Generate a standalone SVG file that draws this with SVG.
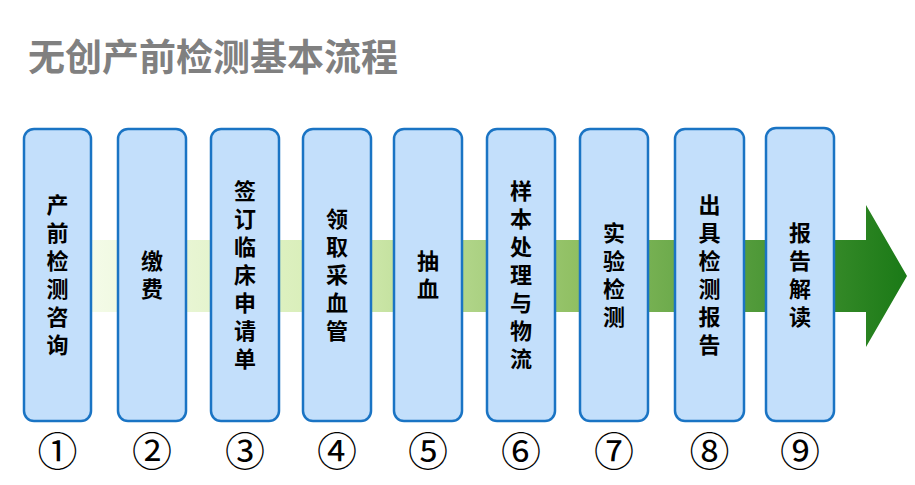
<svg xmlns="http://www.w3.org/2000/svg" width="915" height="485" viewBox="0 0 915 485">
<defs>
<linearGradient id="ag" x1="90" y1="0" x2="905" y2="0" gradientUnits="userSpaceOnUse">
<stop offset="0" stop-color="#f4fbe8"/>
<stop offset="0.3" stop-color="#d6edb4"/>
<stop offset="0.6" stop-color="#8fbf62"/>
<stop offset="1" stop-color="#1b7a17"/>
</linearGradient>
<style>
.box{fill:#c3dffb;stroke:#1a74c4;stroke-width:2.5}
.lbl{font-family:"Noto Sans CJK SC","Noto Sans",sans-serif;font-weight:bold;font-size:22px;fill:#000;text-anchor:middle;writing-mode:vertical-rl;letter-spacing:6px}
.num{font-family:"Noto Sans CJK SC","DejaVu Sans",sans-serif;font-size:40px;fill:#000;text-anchor:middle}
.title{font-family:"Noto Sans CJK SC",sans-serif;font-weight:bold;font-size:37px;fill:#808080}
</style>
</defs>
<rect width="915" height="485" fill="#fff"/>
<text class="title" x="28" y="71">无创产前检测基本流程</text>
<g id="connectors">
<path d="M90,240 H866 V205 L907,276 L866,347 V312 H90 Z" fill="url(#ag)"/>
</g>
<g id="n1"><rect class="box" x="24" y="129" width="67" height="292" rx="10"/>
<text class="lbl" x="57.5" y="278">产前检测咨询</text>
<text class="num" x="57.5" y="466">①</text></g>
<g id="n2"><rect class="box" x="118" y="129" width="68" height="292" rx="10"/>
<text class="lbl" x="152" y="278">缴费</text>
<text class="num" x="152" y="466">②</text></g>
<g id="n3"><rect class="box" x="211" y="129" width="68" height="292" rx="10"/>
<text class="lbl" x="245" y="278">签订临床申请单</text>
<text class="num" x="245" y="466">③</text></g>
<g id="n4"><rect class="box" x="303" y="129" width="68" height="292" rx="10"/>
<text class="lbl" x="337" y="278">领取采血管</text>
<text class="num" x="337" y="466">④</text></g>
<g id="n5"><rect class="box" x="394" y="129" width="68" height="292" rx="10"/>
<text class="lbl" x="428" y="278">抽血</text>
<text class="num" x="428" y="466">⑤</text></g>
<g id="n6"><rect class="box" x="487" y="129" width="68" height="292" rx="10"/>
<text class="lbl" x="521" y="278">样本处理与物流</text>
<text class="num" x="521" y="466">⑥</text></g>
<g id="n7"><rect class="box" x="580" y="129" width="68" height="292" rx="10"/>
<text class="lbl" x="614" y="278">实验检测</text>
<text class="num" x="614" y="466">⑦</text></g>
<g id="n8"><rect class="box" x="675" y="129" width="69" height="292" rx="10"/>
<text class="lbl" x="709.5" y="278">出具检测报告</text>
<text class="num" x="709.5" y="466">⑧</text></g>
<g id="n9"><rect class="box" x="766" y="128" width="68" height="293" rx="10"/>
<text class="lbl" x="800" y="278">报告解读</text>
<text class="num" x="800" y="466">⑨</text></g>
</svg>
